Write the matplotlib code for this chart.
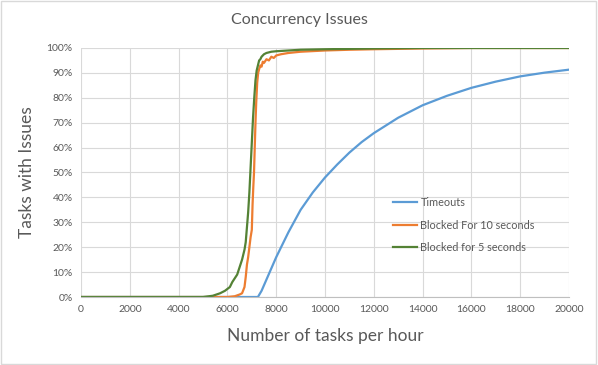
import matplotlib.pyplot as plt
from matplotlib.patches import Rectangle
from matplotlib.ticker import FuncFormatter

plt.rcParams['font.family'] = ['Lato', 'DejaVu Sans']

# Timeouts
x_timeouts = [0, 7250, 7400, 7600, 7800, 8000, 8250, 8500, 8750, 9000, 9500, 10000, 10500,
              11000, 11500, 12000, 13000, 14000, 15000, 16000, 17000, 18000, 19000, 20000]
timeouts = [0, 0, 2.5, 7, 11.5, 16, 21, 26, 30.5, 35, 42, 48, 53.2,
            58, 62.2, 65.8, 72, 77, 80.8, 84, 86.5, 88.6, 90.1, 91.3]

# Blocked For 10 seconds
x_block10 = [0, 6000, 6300, 6500, 6600, 6700, 6750, 6800, 6850, 6900, 6950, 7000, 7030, 7060,
             7090, 7120, 7150, 7180, 7220, 7260, 7300, 7350, 7400, 7450, 7500, 7600, 7700,
             7800, 7900, 8000, 8200, 8500, 9000, 10000, 11000, 12000, 14000, 16000, 20000]
block10 = [0, 0, 0.3, 1, 1.5, 4, 8, 13, 16, 20, 24, 27, 37, 44,
           50, 60, 70, 78, 86, 90, 91.5, 93, 92.5, 94.5, 94, 95.5, 95,
           96.5, 96, 97, 97.5, 98, 98.5, 99, 99.3, 99.5, 99.8, 100, 100]

# Blocked for 5 seconds
x_block5 = [0, 5000, 5400, 5700, 5900, 6100, 6200, 6300, 6400, 6500, 6600, 6700, 6750, 6800,
            6850, 6900, 6950, 7000, 7050, 7100, 7150, 7200, 7250, 7300, 7350, 7400, 7500,
            7600, 7800, 8000, 8500, 9000, 10000, 12000, 14000, 20000]
block5 = [0, 0, 0.5, 1.5, 2.5, 4, 6, 7.5, 9, 12, 15, 19, 22, 28,
          34, 42, 52, 62, 72, 80, 87, 91, 93, 95, 95.5, 96.5, 97.5,
          98, 98.5, 98.7, 99, 99.3, 99.5, 99.8, 100, 100]

fig = plt.figure(figsize=(5.98, 3.65), dpi=100)
ax = fig.add_axes([0.1355, 0.1863, 0.816, 0.6822])

ax.plot(x_timeouts, timeouts, color='#5b9bd5', lw=1.6, label='Timeouts')
ax.plot(x_block10, block10, color='#ed7d31', lw=1.6, label='Blocked For 10 seconds')
ax.plot(x_block5, block5, color='#548235', lw=1.6, label='Blocked for 5 seconds')

ax.set_xlim(0, 20000)
ax.set_ylim(0, 100)
ax.set_xticks(range(0, 20001, 2000))
ax.set_yticks(range(0, 101, 10))
ax.yaxis.set_major_formatter(FuncFormatter(lambda v, p: '%d%%' % v))
ax.grid(True, color='#d9d9d9', lw=0.8)
ax.set_axisbelow(True)
for s in ['top', 'right', 'left']:
    ax.spines[s].set_visible(False)
ax.spines['bottom'].set_color('#bfbfbf')
ax.tick_params(length=0, labelsize=7.5, colors='#595959', pad=6)

ax.set_xlabel('Number of tasks per hour', fontsize=12.5, color='#595959', labelpad=10)
ax.set_ylabel('Tasks with Issues', fontsize=12.5, color='#595959', labelpad=8)
fig.suptitle('Concurrency Issues', x=0.5, y=0.965, fontsize=11.5, color='#595959')

leg = ax.legend(loc='upper left', bbox_to_anchor=(0.62, 0.44), frameon=False,
                fontsize=7.8, handlelength=2.2, handletextpad=0.3, labelspacing=1.05)
for t in leg.get_texts():
    t.set_color('#595959')

fig.patches.append(Rectangle((0.002, 0.003), 0.995, 0.993, transform=fig.transFigure,
                             fill=False, edgecolor='#d9d9d9', lw=1))

fig.savefig('out.png', dpi=100)
